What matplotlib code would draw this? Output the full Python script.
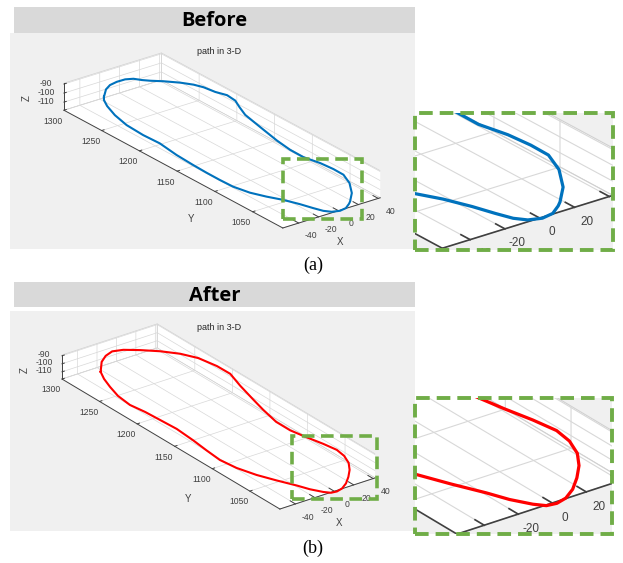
import numpy as np
import matplotlib
matplotlib.use("Agg")
import matplotlib.pyplot as plt
from matplotlib.patches import Rectangle
from mpl_toolkits.mplot3d import proj3d

# raw foot outline from the probe (mm)
before_x = [-34.9, -24.8, -17.2, -8.9, -0.7, 5.3, 9.2, 13.7, 21.6, 30.6, 36.7, 40.0,
            41.9, 45.6, 44.4, 39.3, 33.8, 31.1, 27.8, 23.6, 21.0, 20.8, 24.5, 25.8,
            25.5, 19.5, 9.1, -2.0, -5.4, -12.5, -19.5, -26.0, -30.2, -33.4, -37.2, -42.8,
            -49.6, -55.5, -59.1, -59.6, -59.5, -58.9, -57.6, -54.5, -55.3, -54.0, -49.7,
            -43.9, -38.8, -34.9]
before_y = [1274.8, 1285.4, 1290.2, 1292.0, 1291.8, 1288.7, 1282.6, 1277.5, 1270.2,
            1259.9, 1250.4, 1241.5, 1228.5, 1217.7, 1205.3, 1192.9, 1178.1, 1163.6,
            1145.8, 1122.6, 1101.7, 1083.9, 1066.4, 1050.7, 1037.0, 1021.1, 1004.3,
            992.0, 988.9, 983.7, 982.3, 984.8, 990.3, 999.5, 1012.1, 1026.9, 1040.1,
            1054.3, 1071.8, 1088.7, 1106.5, 1125.0, 1148.6, 1175.0, 1196.0, 1219.6,
            1240.8, 1258.7, 1269.7, 1274.8]
before_z = -100.0

# same outline after smoothing
after_x = [-39.3, -27.5, -18.1, -8.8, 0.3, 11.3, 23.3, 33.8, 41.0, 44.5, 44.7, 38.0,
           31.2, 26.5, 21.7, 21.6, 24.8, 28.5, 30.8, 29.0, 24.2, 17.0, 8.4, -0.5, -8.7,
           -15.4, -20.9, -25.1, -31.0, -35.6, -43.3, -50.5, -56.0, -58.2, -56.4, -54.1,
           -52.3, -53.4, -54.4, -56.7, -54.6, -49.8, -44.9, -39.3]
after_y = [1270.2, 1284.1, 1290.9, 1294.3, 1291.3, 1282.9, 1271.8, 1258.8, 1244.1,
           1223.7, 1206.3, 1184.3, 1157.9, 1138.9, 1115.5, 1096.6, 1078.6, 1061.6,
           1046.5, 1034.4, 1022.2, 1011.6, 1002.1, 993.8, 988.4, 986.5, 987.4, 992.2,
           1002.4, 1014.1, 1030.8, 1048.1, 1067.6, 1087.0, 1107.0, 1127.7, 1152.1,
           1173.0, 1191.5, 1208.7, 1227.3, 1244.1, 1258.4, 1270.2]
after_z = -100.0

x_ticks = [-40, -20, 0, 20, 40]
y_ticks = [1050, 1100, 1150, 1200, 1250, 1300]
z_ticks = [-110, -100, -90]
x_lim = (-56, 42)
y_lim = (1010, 1300)
z_lim = (-119, -89)

W, H = 623, 563
plt.rcParams['font.family'] = ['Liberation Sans', 'DejaVu Sans']
plt.rcParams['axes.unicode_minus'] = False
fig = plt.figure(figsize=(W / 100, H / 100), dpi=100)
fig.patch.set_facecolor('white')

GREEN = '#70ad47'
AXC = '#404040'


def add_rect(x, y, w, h, **kw):
    # x, y: top-left corner in pixels, measured from the top of the figure
    r = Rectangle((x / W, 1 - (y + h) / H), w / W, h / H,
                  transform=fig.transFigure, **kw)
    fig.add_artist(r)
    return r


def add_text(x, y, s, **kw):
    return fig.text(x / W, 1 - y / H, s, ha='center', va='center', **kw)


def corner_px(ax, c):
    xs, ys, _ = proj3d.proj_transform(c[0], c[1], c[2], ax.M)
    return np.array(ax.transData.transform((xs, ys)))


def style_3d(ax, view, aspect, fs, lw_axis, lw_grid, ypad):
    ax.set_proj_type('ortho')
    ax.view_init(elev=view[0], azim=view[1])
    ax.set_xlim(*x_lim)
    ax.set_ylim(*y_lim)
    ax.set_zlim(*z_lim)
    ax.set_box_aspect(aspect)
    ax.set_xticks(x_ticks)
    ax.set_yticks(y_ticks)
    ax.set_zticks(z_ticks)
    ax.set_facecolor('none')
    for axis in (ax.xaxis, ax.yaxis, ax.zaxis):
        axis.set_pane_color((1, 1, 1, 1))
        axis.pane.set_edgecolor('#d0d0d0')
        axis.pane.set_linewidth(lw_grid)
        axis.line.set_color(AXC)
        axis.line.set_linewidth(lw_axis)
        axis._axinfo['grid'].update(color='#d8d8d8', linewidth=lw_grid)
        axis._axinfo['tick'].update(inward_factor=0.0, outward_factor=0.3)
        axis._axinfo['tick']['linewidth'] = {True: lw_axis, False: lw_axis}
    ax.tick_params(labelsize=fs, colors=AXC, pad=0)
    ax.tick_params(axis='y', pad=ypad)


def fit_box(ax, targets):
    # scale and shift the square 3D axes so the box corners land on targets
    for _ in range(2):
        fig.canvas.draw()
        p = np.array([corner_px(ax, c) for c, _ in targets])
        t = np.array([[tx, H - ty] for _, (tx, ty) in targets])
        k = (np.linalg.norm(t - t.mean(0), axis=1).sum()
             / np.linalg.norm(p - p.mean(0), axis=1).sum())
        bb = ax.get_position()
        s = bb.width * W
        c = np.array([bb.x0 * W + s / 2, bb.y0 * H + s / 2])
        c_new = t.mean(0) - k * (p.mean(0) - c)
        s_new = s * k
        ax.set_position([(c_new[0] - s_new / 2) / W, (c_new[1] - s_new / 2) / H,
                         s_new / W, s_new / H])


def panel(xs, ys, zval, color, head, head_box, bg_box, view, aspect, targets,
          label_pos, zoom_box, inset_box, inset_off, k_in=1.75):
    # header bar and grey figure area
    hx, hy, hw, hh = head_box
    add_rect(*head_box, fc='#d9d9d9', ec='none', zorder=-5)
    add_text(hx + hw / 2, hy + hh / 2 + 1.5, head, fontsize=14.5, fontweight='bold',
             family='Open Sans', color='black')
    add_rect(*bg_box, fc='#f0f0f0', ec='none', zorder=-5)
    add_text(219, hy + 45, 'path in 3-D', fontsize=6.5, color='#262626')

    zs = np.full(len(xs), zval)

    ax = fig.add_axes([0.05, 0.3, 400 / W, 400 / H], projection='3d')
    style_3d(ax, view, aspect, 6.2, 0.7, 0.5, 8)
    ax.plot(xs, ys, zs, color=color, lw=1.5)
    fit_box(ax, targets)
    (xl, yl, zl) = label_pos
    add_text(*xl, 'X', fontsize=7, color=AXC)
    add_text(*yl, 'Y', fontsize=7, color=AXC)
    add_text(*zl, 'Z', fontsize=7, color=AXC, rotation=90)

    # magnified copy of the same scene, cut to the inset frame
    bb = ax.get_position()
    s = bb.width * W
    top_td = H - (bb.y0 * H + s)
    ix0 = k_in * bb.x0 * W + inset_off[0]
    itop = k_in * top_td + inset_off[1]
    isz = k_in * s
    ix, iy, iw, ih = inset_box
    add_rect(ix, iy, iw, ih, fc='#f0f0f0', ec='none', zorder=-5)
    ax_in = fig.add_axes([ix0 / W, 1 - (itop + isz) / H, isz / W, isz / H],
                         projection='3d')
    style_3d(ax_in, view, aspect, 8.5, 1.2, 0.8, 6)
    ax_in.plot(xs, ys, zs, color=color, lw=2.3)

    add_rect(*zoom_box, fill=False, ec=GREEN, lw=2.6, ls=(0, (3.5, 1.8)), zorder=10)
    add_rect(*inset_box, fill=False, ec=GREEN, lw=2.8, ls=(0, (3.5, 1.8)), zorder=10)
    clip = Rectangle((ix / W, 1 - (iy + ih) / H), iw / W, ih / H,
                     transform=fig.transFigure)
    return ax_in, clip


corners = [(x_lim[0], y_lim[0], z_lim[0]), (x_lim[1], y_lim[0], z_lim[0]),
           (x_lim[0], y_lim[1], z_lim[0])]

inset_a = panel(before_x, before_y, before_z, '#0072bd', 'Before',
                (14, 7, 401, 26), (10, 33, 405, 216),
                (24.1, -127.2), (98, 290, 23.8),
                list(zip(corners, [(283, 228), (380, 198), (64, 110)])),
                ((340, 242), (191, 219), (27, 98)),
                (283, 159, 79, 60), (415, 113, 198, 137), (-52.6, -150.7))
inset_b = panel(after_x, after_y, after_z, '#ff0000', 'After',
                (14, 282, 401, 25), (10, 311, 405, 220),
                (26.2, -126.5), (98, 303, 22.2),
                list(zip(corners, [(280, 509), (375, 478), (62, 379)])),
                ((339, 523), (188, 499), (25, 370)),
                (292, 436, 85, 63), (415, 398, 197, 136), (-32.8, -356.7))

add_text(313, 265, '(a)', fontsize=13, family='Liberation Serif')
add_text(313, 548, '(b)', fontsize=13, family='Liberation Serif')

# clip the magnified views to their frames
fig.canvas.draw()
for ax_in, clip in (inset_a, inset_b):
    parts = [a for a in ax_in.findobj() if a is not ax_in]
    for axis in (ax_in.xaxis, ax_in.yaxis, ax_in.zaxis):
        parts += [axis.pane, axis.line, axis.gridlines]
    for a in parts:
        a.set_clip_on(True)
        a.set_clip_path(clip)

fig.savefig('out.png', dpi=100, facecolor='white')
